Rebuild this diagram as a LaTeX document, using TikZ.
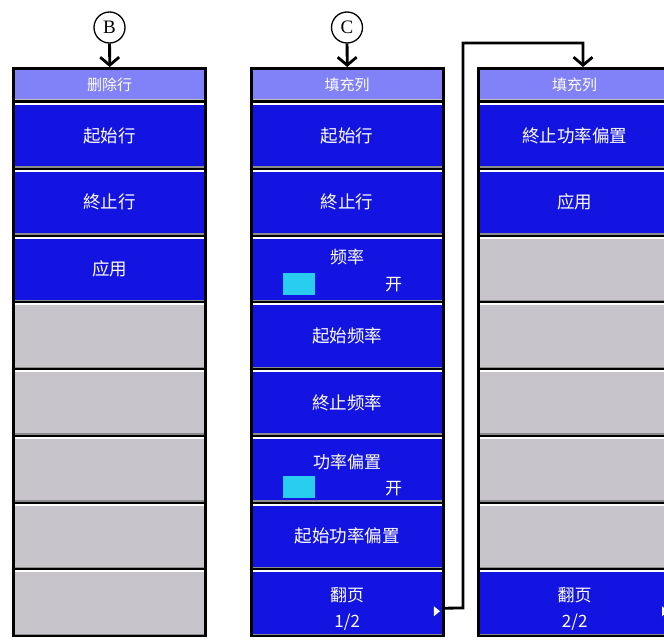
\documentclass[tikz,border=0pt]{standalone}
\usepackage{fontspec}
\setmainfont{Liberation Serif}
\newfontfamily\cjk{Noto Sans CJK SC}
\usetikzlibrary{arrows.meta,calc}
\definecolor{btnblue}{RGB}{20,20,226}
\definecolor{titleblue}{RGB}{130,130,248}
\definecolor{btngrey}{RGB}{200,196,204}
\definecolor{togcyan}{RGB}{40,205,240}
\tikzset{
  panelframe/.style={rectangle, fill=black, inner sep=0pt, minimum width=195pt, minimum height=570pt, anchor=north west},
  menubtn/.style={rectangle, inner sep=0pt, minimum width=189pt, minimum height=64.5pt, anchor=north west, text=white, font=\cjk\fontsize{17.5}{19}\selectfont},
  titlebar/.style={rectangle, fill=titleblue, inner sep=0pt, minimum width=189pt, minimum height=30pt, anchor=north west, text=white, font=\cjk\fontsize{15}{17}\selectfont},
  lbl/.style={text=white, inner sep=0pt, font=\cjk\fontsize{17}{19}\selectfont},
  toggle/.style={rectangle, fill=togcyan, inner sep=0pt, minimum width=32pt, minimum height=22pt},
  marker/.style={circle, draw, line width=1.3pt, minimum size=31pt, inner sep=0pt, font=\fontsize{19}{21}\selectfont},
  conn/.style={line width=2.8pt, -{Straight Barb[length=8pt,width=19pt,line width=2.8pt]}},
  bevtop/.style={white, line width=2pt},
  bevbot/.style={black!45, line width=1.6pt},
}
\newcommand{\mybtn}[5]{% name, x0, index, colour, text
  \node[menubtn, fill=#4] (#1) at ({#2+3},{103+(#3-1)*66.75}) {#5};
  \draw[bevtop] ([yshift=-1pt]#1.north west) -- ([yshift=-1pt]#1.north east);
  \draw[bevbot] ([yshift=0.8pt]#1.south west) -- ([yshift=0.8pt]#1.south east);
}
\newcommand{\mytitle}[3]{% name, x0, text
  \node[titlebar] (#1) at ({#2+3},70) {#3};
  \draw[black!25, line width=1.6pt] ([yshift=0.8pt]#1.south west) -- ([yshift=0.8pt]#1.south east);
}
\begin{document}
\begin{tikzpicture}[x=1pt,y=-1pt]
\useasboundingbox (0,0) rectangle (664,640);
\fill[white] (0,0) rectangle (664,640);

% ---------- panel B ----------
\node[panelframe] (Bf) at (12,67) {};
\mytitle{Bt}{12}{删除行}
\mybtn{B1}{12}{1}{btnblue}{起始行}
\mybtn{B2}{12}{2}{btnblue}{終止行}
\mybtn{B3}{12}{3}{btnblue}{应用}
\mybtn{B4}{12}{4}{btngrey}{}
\mybtn{B5}{12}{5}{btngrey}{}
\mybtn{B6}{12}{6}{btngrey}{}
\mybtn{B7}{12}{7}{btngrey}{}
\mybtn{B8}{12}{8}{btngrey}{}

% ---------- panel C ----------
\node[panelframe] (Cf) at (249.5,67) {};
\mytitle{Ct}{249.5}{填充列}
\mybtn{C1}{249.5}{1}{btnblue}{起始行}
\mybtn{C2}{249.5}{2}{btnblue}{終止行}
\mybtn{C3}{249.5}{3}{btnblue}{}
\mybtn{C4}{249.5}{4}{btnblue}{起始频率}
\mybtn{C5}{249.5}{5}{btnblue}{終止频率}
\mybtn{C6}{249.5}{6}{btnblue}{}
\mybtn{C7}{249.5}{7}{btnblue}{起始功率偏置}
\mybtn{C8}{249.5}{8}{btnblue}{}
\node[lbl] (C3l) at ($(C3.north)+(0,21)$) {频率};
\node[toggle] (C3t) at ($(C3.north west)+(46,47)$) {};
\node[lbl] (C3o) at ($(C3.north west)+(141,48)$) {开};
\node[lbl] (C6l) at ($(C6.north)+(0,25)$) {功率偏置};
\node[toggle] (C6t) at ($(C6.north west)+(46,50)$) {};
\node[lbl] (C6o) at ($(C6.north west)+(141,52)$) {开};
\node[lbl] (C8l) at ($(C8.north)+(0,25)$) {翻页};
\node[lbl] (C8p) at ($(C8.north)+(0,52)$) {1/2};
\fill[white] ($(C8.north east)+(-8,36)$) -- ++(6,5) -- ++(-6,5) -- cycle;

% ---------- panel D ----------
\node[panelframe] (Df) at (477,67) {};
\mytitle{Dt}{477}{填充列}
\mybtn{D1}{477}{1}{btnblue}{終止功率偏置}
\mybtn{D2}{477}{2}{btnblue}{应用}
\mybtn{D3}{477}{3}{btngrey}{}
\mybtn{D4}{477}{4}{btngrey}{}
\mybtn{D5}{477}{5}{btngrey}{}
\mybtn{D6}{477}{6}{btngrey}{}
\mybtn{D7}{477}{7}{btngrey}{}
\mybtn{D8}{477}{8}{btnblue}{}
\node[lbl] (D8l) at ($(D8.north)+(0,25)$) {翻页};
\node[lbl] (D8p) at ($(D8.north)+(0,52)$) {2/2};
\fill[white] ($(D8.north west)+(182,36)$) -- ++(6,5) -- ++(-6,5) -- cycle;

% ---------- markers and connectors ----------
\node[marker] (mB) at (109.5,27.5) {B};
\node[marker] (mC) at (347,27.5) {C};
\draw[conn] (mB) -- (Bf.north);
\draw[conn] (mC) -- (Cf.north);
\coordinate (Dtop) at (583,67);
\draw[conn] ([yshift=-5.5pt]C8.east) -- (463,608) -- (463,43) -- (583,43) -- (Dtop);
\end{tikzpicture}
\end{document}
